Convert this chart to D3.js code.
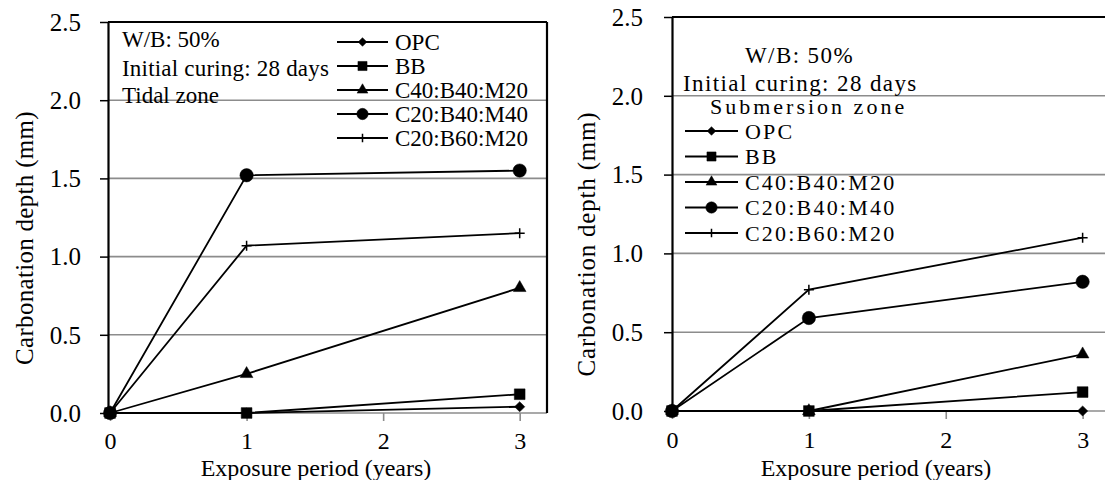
<!DOCTYPE html>
<html>
<head>
<meta charset="utf-8">
<script src="https://cdn.jsdelivr.net/npm/d3@7"></script>
<style>
  body { margin: 0; background: #fff; }
  svg text { font-family: "Liberation Serif", "DejaVu Serif", "Noto Serif", "Times New Roman", serif; fill: #000; }
</style>
</head>
<body>
<div id="chart"></div>
<script>
// carbonation depth vs exposure period, two zones side by side

// data
var years = [0, 1, 3]
var seriesNames = ["OPC", "BB", "C40:B40:M20", "C20:B40:M40", "C20:B60:M20"]
var markerKinds = ["diamond", "square", "triangle", "circle", "plus"]

var tidalOPC = [0, 0, 0.04]
var tidalBB = [0, 0, 0.12]
var tidalC40B40M20 = [0, 0.25, 0.80]
var tidalC20B40M40 = [0, 1.52, 1.55]
var tidalC20B60M20 = [0, 1.07, 1.15]

var subOPC = [0, 0, 0]
var subBB = [0, 0, 0.12]
var subC40B40M20 = [0, 0, 0.36]
var subC20B40M40 = [0, 0.59, 0.82]
var subC20B60M20 = [0, 0.77, 1.10]

var xTicks = [0, 1, 2, 3]
var yTicks = [0, 0.5, 1.0, 1.5, 2.0, 2.5]

var width = 1105
var height = 480
var serif = "'Liberation Serif', 'DejaVu Serif', 'Noto Serif', 'Times New Roman', serif"

var svg = d3.select("#chart")
    .append("svg")
    .attr("width", width)
    .attr("height", height)
    .attr("font-family", serif)

// marker drawing
function marker(kind, scale) {
    var s = scale || 1
    if (kind == "diamond") return d3.symbol().type(d3.symbolSquare).size(52 * s * s)()
    if (kind == "square") return d3.symbol().type(d3.symbolSquare).size(115 * s * s)()
    if (kind == "triangle") return d3.symbol().type(d3.symbolTriangle).size(70 * s * s)()
    if (kind == "circle") return d3.symbol().type(d3.symbolCircle).size(140 * s * s)()
    var r = 5 * s
    return "M" + (-r) + ",0H" + r + "M0," + (-r) + "V" + r
}

function drawPanel(p) {
    var g = svg.append("g")

    var x = d3.scaleLinear().domain([p.x0, 3.2]).range([p.left, p.right])
    var y = d3.scaleLinear().domain([0, 2.5]).range([p.bottom, p.top])

    // gridlines
    g.append("g")
        .selectAll("line")
        .data(yTicks.filter(d => d > 0 && d < 2.5))
        .join("line")
        .attr("x1", p.left).attr("x2", p.right)
        .attr("y1", d => y(d)).attr("y2", d => y(d))
        .attr("stroke", "#8c8c8c")
        .attr("stroke-width", 1.6)

    // x axis (grey, ticks down)
    var xAxis = g.append("g")
        .attr("transform", `translate(0,${p.bottom})`)
        .call(d3.axisBottom(x).tickValues(xTicks).tickFormat(d3.format("d")).tickSize(8).tickSizeOuter(0))
    xAxis.attr("font-family", serif)
    xAxis.select(".domain").attr("stroke", "#8c8c8c").attr("stroke-width", 1.6)
        .attr("d", `M${p.left},0H${p.right}`)
    xAxis.selectAll(".tick line").attr("stroke", "#8c8c8c").attr("stroke-width", 1.6)
    xAxis.selectAll(".tick text")
        .attr("font-size", 24)
        .attr("dy", null)
        .attr("y", p.xLabelY)

    // y axis (black, ticks out)
    var yAxis = g.append("g")
        .attr("transform", `translate(${p.left},0)`)
        .call(d3.axisLeft(y).tickValues(yTicks).tickFormat(d3.format(".1f")).tickSize(8).tickSizeOuter(0))
    yAxis.attr("font-family", serif)
    yAxis.select(".domain").attr("stroke", "#000").attr("stroke-width", 2.2)
    yAxis.selectAll(".tick line").attr("stroke", "#000").attr("stroke-width", 1.5)
    yAxis.selectAll(".tick text")
        .attr("font-size", 25)
        .attr("x", p.yLabelX - p.left)
        .attr("dy", "0.33em")

    // frame: top (and right for the left panel)
    g.append("line")
        .attr("x1", p.left).attr("x2", p.right)
        .attr("y1", p.top).attr("y2", p.top)
        .attr("stroke", "#000").attr("stroke-width", 2.2)
    if (p.rightFrame) {
        g.append("line")
            .attr("x1", p.right).attr("x2", p.right)
            .attr("y1", p.top).attr("y2", p.bottom)
            .attr("stroke", "#000").attr("stroke-width", 2.2)
    }

    // series lines
    var line = d3.line()
        .x((d, i) => x(years[i]))
        .y(d => y(d))

    g.append("g")
        .attr("fill", "none")
        .attr("stroke", "#000")
        .attr("stroke-width", 1.8)
        .selectAll("path")
        .data(p.series)
        .join("path")
        .attr("d", d => line(d))

    // markers
    p.series.forEach(function (vals, si) {
        var kind = markerKinds[si]
        g.append("g")
            .selectAll("path")
            .data(vals)
            .join("path")
            .attr("transform", (d, i) => `translate(${x(years[i])},${y(d)})` + (kind == "diamond" ? " rotate(45)" : ""))
            .attr("d", marker(kind))
            .attr("fill", kind == "plus" ? "none" : "#000")
            .attr("stroke", "#000")
            .attr("stroke-width", kind == "plus" ? 1.5 : 0.5)
    })

    // notes
    g.append("g")
        .selectAll("text")
        .data(p.notes)
        .join("text")
        .attr("x", d => d.x)
        .attr("y", d => d.y)
        .attr("font-size", d => d.size || p.textSize)
        .attr("letter-spacing", d => d.ls || 0)
        .text(d => d.t)

    // legend
    var leg = g.append("g")
        .selectAll("g")
        .data(seriesNames)
        .join("g")
        .attr("transform", (d, i) => `translate(0,${p.legY + i * p.legStep})`)
    leg.append("line")
        .attr("x1", p.legX).attr("x2", p.legX + p.legLen)
        .attr("stroke", "#000").attr("stroke-width", 1.8)
    leg.append("path")
        .attr("transform", (d, i) => `translate(${p.legX + p.legLen / 2},0)` + (markerKinds[i] == "diamond" ? " rotate(45)" : ""))
        .attr("d", (d, i) => marker(markerKinds[i], 0.85))
        .attr("fill", (d, i) => markerKinds[i] == "plus" ? "none" : "#000")
        .attr("stroke", "#000")
        .attr("stroke-width", (d, i) => markerKinds[i] == "plus" ? 1.5 : 0.5)
    leg.append("text")
        .attr("x", p.legX + p.legLen + 7)
        .attr("dy", "0.36em")
        .attr("font-size", p.legSize)
        .attr("letter-spacing", p.legSpacing)
        .text(d => d)

    // axis titles
    g.append("text")
        .attr("x", p.xTitleX)
        .attr("y", 476)
        .attr("text-anchor", "middle")
        .attr("font-size", 24)
        .text("Exposure period (years)")

    g.append("text")
        .attr("transform", `translate(${p.yTitleX},${p.yTitleY}) rotate(-90)`)
        .attr("text-anchor", "middle")
        .attr("font-size", 25)
        .attr("letter-spacing", p.yTitleSpacing)
        .text("Carbonation depth (mm)")
}

drawPanel({
    left: 108, right: 547, top: 22, bottom: 413, x0: -0.015,
    rightFrame: true,
    xLabelY: 36, yLabelX: 81,
    series: [tidalOPC, tidalBB, tidalC40B40M20, tidalC20B40M40, tidalC20B60M20],
    textSize: 23, legSize: 23, legSpacing: 0,
    notes: [
        { t: "W/B: 50%", x: 122, y: 47 },
        { t: "Initial curing: 28 days", x: 122, y: 76, ls: 0.2 },
        { t: "Tidal zone", x: 122, y: 103 }
    ],
    legX: 337, legY: 42, legStep: 24, legLen: 51,
    xTitleX: 316, yTitleX: 33, yTitleY: 238, yTitleSpacing: 0.3
})

drawPanel({
    left: 672, right: 1110, top: 17, bottom: 411, x0: 0,
    rightFrame: false,
    xLabelY: 37, yLabelX: 643,
    series: [subOPC, subBB, subC40B40M20, subC20B40M40, subC20B60M20],
    textSize: 23, legSize: 22, legSpacing: 2.2,
    notes: [
        { t: "W/B: 50%", x: 745, y: 63, ls: 1.4 },
        { t: "Initial curing: 28 days", x: 683, y: 91, ls: 1.4 },
        { t: "Submersion zone", x: 710, y: 114, size: 22, ls: 3 }
    ],
    legX: 685, legY: 131, legStep: 25.5, legLen: 53,
    xTitleX: 876, yTitleX: 595, yTitleY: 244, yTitleSpacing: 0.8
})
</script>
</body>
</html>
